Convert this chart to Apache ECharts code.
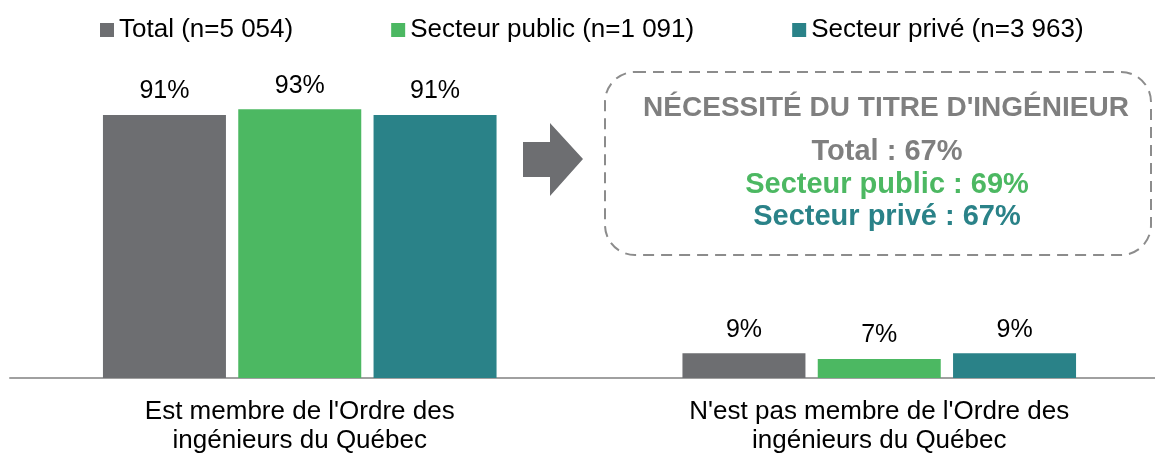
<!DOCTYPE html>
<html>
<head>
<meta charset="utf-8">
<script src="https://cdn.jsdelivr.net/npm/echarts@6/dist/echarts.min.js"></script>
<style>
  html, body { margin: 0; padding: 0; background: #fff; }
  #chart { width: 1155px; height: 456px; }
</style>
</head>
<body>
<div id="chart"></div>
<script>
  // categories and series
  var categories = ["Est membre de l'Ordre des\ningénieurs du Québec", "N'est pas membre de l'Ordre des\ningénieurs du Québec"]
  var seriesNames = ['Total (n=5 054)', 'Secteur public (n=1 091)', 'Secteur privé (n=3 963)']
  var totalValues = [91, 8.6]
  var publicValues = [93, 6.6]
  var priveValues = [91, 8.6]
  var colors = ['#6d6e71', '#4cb862', '#2a8288']

  // encadré "Nécessité du titre"
  var boxTitle = "NÉCESSITÉ DU TITRE D'INGÉNIEUR"
  var boxLines = ['Total : 67%', 'Secteur public : 69%', 'Secteur privé : 67%']

  var font = '"Liberation Sans", Arial, sans-serif'
  var chart = echarts.init(document.getElementById('chart'))

  function makeSeries(name, data, color) {
    return {
      name: name,
      type: 'bar',
      data: data,
      barWidth: 123,
      barGap: '10%',
      itemStyle: { color: color },
      label: {
        show: true,
        position: 'top',
        distance: 11,
        color: '#000',
        fontSize: 25,
        fontFamily: font,
        formatter: function (p) { return Math.round(p.value) + '%' }
      },
      animation: false
    }
  }

  chart.setOption({
    animation: false,
    textStyle: { fontFamily: font },
    color: colors,
    legend: {
      data: seriesNames,
      left: 95,
      top: 12,
      itemWidth: 14,
      itemHeight: 14,
      itemGap: 98,
      icon: 'rect',
      textStyle: { fontSize: 26, color: '#000', fontFamily: font }
    },
    grid: {
      left: 10,
      right: -14,
      top: 89,
      bottom: 78,
      containLabel: false,
      outerBoundsMode: 'none'
    },
    xAxis: {
      type: 'category',
      data: categories,
      axisTick: { show: false },
      axisLine: { lineStyle: { color: '#a0a0a0', width: 2 } },
      axisLabel: {
        color: '#000',
        fontSize: 26,
        lineHeight: 29,
        margin: 19,
        fontFamily: font,
        interval: 0
      }
    },
    yAxis: {
      type: 'value',
      min: 0,
      max: 100,
      show: false,
      splitLine: { show: false }
    },
    series: [
      makeSeries(seriesNames[0], totalValues, colors[0]),
      makeSeries(seriesNames[1], publicValues, colors[1]),
      makeSeries(seriesNames[2], priveValues, colors[2])
    ],
    graphic: [
      {
        type: 'polygon',
        shape: { points: [[523, 142], [550, 142], [550, 123], [583, 159], [550, 196], [550, 177], [523, 177]] },
        style: { fill: '#6d6e71' }
      },
      {
        type: 'rect',
        shape: { x: 605, y: 72, width: 546, height: 183, r: 30 },
        style: { fill: 'none', stroke: '#8c8c8c', lineWidth: 2, lineDash: [11, 7] }
      },
      {
        type: 'text',
        x: 886, y: 108,
        style: { text: boxTitle, fill: '#7f7f7f', font: 'bold 28px ' + font, align: 'center', verticalAlign: 'middle' }
      },
      {
        type: 'text',
        x: 887, y: 152,
        style: { text: boxLines[0], fill: '#7f7f7f', font: 'bold 29px ' + font, align: 'center', verticalAlign: 'middle' }
      },
      {
        type: 'text',
        x: 887, y: 185,
        style: { text: boxLines[1], fill: colors[1], font: 'bold 29px ' + font, align: 'center', verticalAlign: 'middle' }
      },
      {
        type: 'text',
        x: 887, y: 217,
        style: { text: boxLines[2], fill: colors[2], font: 'bold 29px ' + font, align: 'center', verticalAlign: 'middle' }
      }
    ]
  })
</script>
</body>
</html>
